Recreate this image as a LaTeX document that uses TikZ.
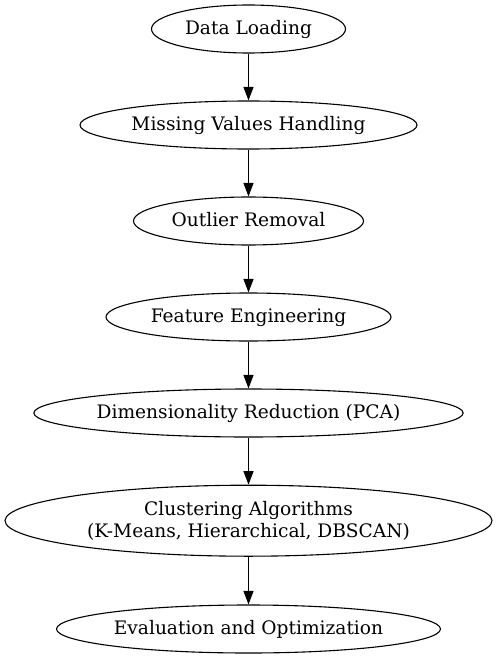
\documentclass[tikz,border=0pt]{standalone}
\usepackage{fontspec}
\setmainfont{DejaVu Serif}
\usetikzlibrary{shapes.geometric,arrows.meta}
\begin{document}
\begin{tikzpicture}[x=1pt,y=-1pt,
  proc/.style={draw,ellipse,inner sep=0pt,font=\fontsize{18.6pt}{21.5pt}\selectfont,align=center,line width=1.1pt,minimum height=48pt},
  one/.style={text height=14pt,text depth=3.6pt},
  flow/.style={-{Triangle[length=13.5pt,width=10pt]},line width=1.1pt}]
\useasboundingbox (0,0) rectangle (497,658);
\node[proc,one,minimum width=194pt] (a) at (248.5,29) {Data Loading};
\node[proc,one,minimum width=337pt] (b) at (248.5,125) {Missing Values Handling};
\node[proc,one,minimum width=230pt] (c) at (248.5,221) {Outlier Removal};
\node[proc,one,minimum width=285pt] (d) at (248.5,317) {Feature Engineering};
\node[proc,one,minimum width=426pt] (e) at (248.5,413) {Dimensionality Reduction (PCA)};
\node[proc,minimum width=487pt,minimum height=71pt] (f) at (248.5,520.7) {Clustering Algorithms\\(K-Means, Hierarchical, DBSCAN)};
\node[proc,one,minimum width=384pt] (g) at (248.5,629) {Evaluation and Optimization};
\draw[flow] (a) -- (b);
\draw[flow] (b) -- (c);
\draw[flow] (c) -- (d);
\draw[flow] (d) -- (e);
\draw[flow] (e) -- (f);
\draw[flow] (f) -- (g);
\end{tikzpicture}
\end{document}
